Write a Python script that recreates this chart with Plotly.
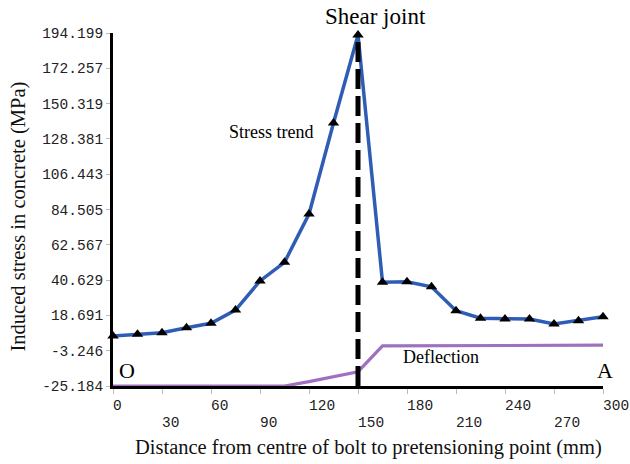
import plotly.graph_objects as go

# ---- data ----
distance_mm = [0, 15, 30, 45, 60, 75, 90, 105, 120, 135, 150,
               165, 180, 195, 210, 225, 240, 255, 270, 285, 300]
stress_mpa = [5.9, 6.9, 7.9, 11.0, 13.8, 22.0, 40.1, 51.7, 81.7, 138.3, 193.0,
              39.3, 39.6, 36.5, 21.6, 16.9, 16.4, 16.4, 13.3, 15.4, 17.9]
deflection = [-25.184, -25.184, -25.184, -25.184, -25.184, -25.184, -25.184, -25.184,
              -22.5, -19.4, -16.3, -0.3, -0.3, 0.2, 0.2, 0.2, 0.2, 0.2, 0.2, 0.2, 0.2]
shear_joint_x = 150
y_ticks = [-25.184, -3.246, 18.691, 40.629, 62.567, 84.505, 106.443,
           128.381, 150.319, 172.257, 194.199]
y_tick_text = ["-25.184", "-3.246", "18.691", "40.629", "62.567", "84.505",
               "106.443", "128.381", "150.319", "172.257", "194.199"]
x_ticks = [0, 30, 60, 90, 120, 150, 180, 210, 240, 270, 300]
x_ticks_upper = x_ticks[0::2]   # 0, 60, 120, ...
x_ticks_lower = x_ticks[1::2]   # 30, 90, 150, ...

serif = "Liberation Serif, Times New Roman, serif"
mono = "Liberation Mono, Courier New, monospace"
tick_font = dict(family=mono, size=14.5, color="#222")


def left_aligned(v):
    # monospace label that starts at its tick (pad with same number of nbsp)
    s = str(v)
    return "\u00a0" * len(s) + s


fig = go.Figure()

fig.add_trace(go.Scatter(
    x=distance_mm, y=deflection, mode="lines",
    line=dict(color="#A070C0", width=3.2), showlegend=False, hoverinfo="skip"))

fig.add_trace(go.Scatter(
    x=distance_mm, y=stress_mpa, mode="lines+markers",
    line=dict(color="#2F5DB5", width=3.5),
    marker=dict(symbol="triangle-up", size=10, color="black"),
    cliponaxis=False, showlegend=False))

fig.add_trace(go.Scatter(
    x=[shear_joint_x, shear_joint_x], y=[y_ticks[0], max(stress_mpa) - 4],
    mode="lines", line=dict(color="black", width=5, dash="20px,7px"),
    showlegend=False, hoverinfo="skip"))

# invisible helper traces so the tick-label axes exist
for ax in ("x2", "x3"):
    fig.add_trace(go.Scatter(
        x=[distance_mm[0], distance_mm[-1]], y=[stress_mpa[0], stress_mpa[-1]],
        xaxis=ax, mode="markers", marker=dict(opacity=0), showlegend=False,
        hoverinfo="skip"))

label_axis = dict(overlaying="x", anchor="y", side="bottom", range=[0, 300],
                  showgrid=False, zeroline=False, showline=False, ticks="",
                  tickfont=tick_font, automargin=False, ticklabeloverflow="allow")

fig.update_layout(
    width=630, height=464, autosize=False,
    margin=dict(l=113, r=27, t=33, b=78, pad=0),
    paper_bgcolor="white", plot_bgcolor="rgba(0,0,0,0)",
    xaxis=dict(range=[0, 300], tickvals=x_ticks,
               showticklabels=False, showgrid=False, zeroline=False, showline=True,
               linecolor="black", linewidth=3, ticks="outside", ticklen=5,
               tickcolor="#bbbbbb", layer="below traces", automargin=False),
    xaxis2=dict(label_axis, tickvals=x_ticks_upper,
                ticktext=[left_aligned(v) for v in x_ticks_upper], ticklabelstandoff=8),
    xaxis3=dict(label_axis, tickvals=x_ticks_lower,
                ticktext=[left_aligned(v) for v in x_ticks_lower], ticklabelstandoff=25),
    yaxis=dict(range=[y_ticks[0], y_ticks[-1]], tickvals=y_ticks, ticktext=y_tick_text,
               showgrid=False, zeroline=False, showline=True, linecolor="black",
               linewidth=3, ticks="outside", ticklen=4, tickcolor="#bbbbbb",
               tickfont=tick_font, layer="below traces", automargin=False),
    annotations=[
        dict(text="Distance from centre of bolt to pretensioning point (mm)",
             x=0.5, y=0, xref="paper", yref="paper", xshift=10, yshift=-61,
             showarrow=False, xanchor="center", yanchor="middle",
             font=dict(family=serif, size=20.5, color="#111")),
        dict(text="Induced stress in concrete (MPa)", textangle=-90,
             x=0, y=0.5, xref="paper", yref="paper", xshift=-95, yshift=-7,
             showarrow=False, xanchor="center", yanchor="middle",
             font=dict(family=serif, size=20.5, color="#111")),
        dict(text="Shear joint", x=shear_joint_x, y=1.0, xref="x", yref="paper",
             xshift=17, yshift=17, showarrow=False,
             font=dict(family=serif, size=23, color="black"),
             xanchor="center", yanchor="middle"),
        dict(text="Stress trend", x=97, y=132.8, xref="x", yref="y", showarrow=False,
             font=dict(family=serif, size=18, color="black")),
        dict(text="Deflection", x=201, y=-6.9, xref="x", yref="y", showarrow=False,
             font=dict(family=serif, size=18, color="black")),
        dict(text="O", x=8.6, y=-15.6, xref="x", yref="y", showarrow=False,
             font=dict(family=serif, size=22, color="black")),
        dict(text="A", x=300, y=-15.6, xref="x", yref="y", showarrow=False,
             xshift=2, font=dict(family=serif, size=22, color="black")),
    ],
)

fig.write_html("out.html", config={"displayModeBar": False},
               post_script="document.body.style.margin='0px';")
